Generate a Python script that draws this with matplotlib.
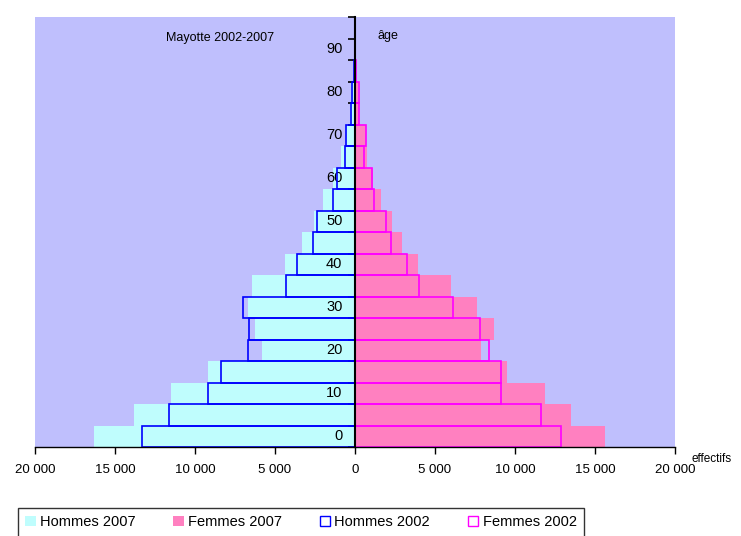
import numpy as np
import matplotlib.pyplot as plt
from matplotlib.patches import Patch

plt.rcParams['font.family'] = ['Liberation Sans', 'DejaVu Sans']

# 5-year age groups 0-4 ... 95-99, counts (persons)
age_groups = np.arange(0, 100, 5)
hommes_2007 = [16300, 13800, 11500, 9200, 5800, 6250, 6700, 6450, 4400, 3300,
               2560, 1980, 1350, 870, 550, 300, 270, 60, 30, 10]
femmes_2007 = [15600, 13500, 11900, 9500, 7850, 8670, 7650, 5980, 3940, 2920,
               2290, 1600, 1100, 730, 670, 250, 200, 50, 30, 10]
hommes_2002 = [13300, 11600, 9200, 8400, 6700, 6600, 7000, 4300, 3600, 2600,
               2350, 1400, 1150, 650, 580, 270, 190, 50, 20, 10]
femmes_2002 = [12900, 11600, 9100, 9100, 8350, 7800, 6150, 4000, 3270, 2230,
               1940, 1200, 1040, 560, 670, 270, 270, 50, 30, 10]

x_ticks = [-20000, -15000, -10000, -5000, 0, 5000, 10000, 15000, 20000]
age_labels = ['0', '10', '20', '30', '40', '50', '60', '70', '80', '90']

c_bg = '#bfbffd'
c_h07 = '#bffdfd'
c_f07 = '#ff80c0'
c_h02 = '#0000ff'
c_f02 = '#ff00ff'

fig = plt.figure(figsize=(7.41, 5.36), dpi=100)
ax = fig.add_axes([35 / 741, 1 - 447 / 536, 640 / 741, 430 / 536])
ax.set_facecolor(c_bg)

pos = np.arange(len(age_groups)) + 0.5
ax.barh(pos, -np.array(hommes_2007), height=1, color=c_h07, zorder=1)
ax.barh(pos, femmes_2007, height=1, color=c_f07, zorder=1)
ax.barh(pos, -np.array(hommes_2002), height=1, fill=False,
        edgecolor=c_h02, linewidth=1.2, zorder=2)
ax.barh(pos, femmes_2002, height=1, fill=False,
        edgecolor=c_f02, linewidth=1.2, zorder=2)

ax.set_xlim(-20000, 20000)
ax.set_ylim(0, len(age_groups))

# x axis
ax.set_xticks(x_ticks)
ax.set_xticklabels([f"{abs(v):,}".replace(",", " ") for v in x_ticks], fontsize=9.5)
ax.tick_params(axis='x', direction='out', length=5, width=1, pad=7)

# central age axis
ax.spines['left'].set_position(('data', 0))
ax.spines['left'].set_linewidth(1.5)
ax.spines['left'].set_zorder(3)
ax.spines['bottom'].set_linewidth(1)
ax.spines['top'].set_visible(False)
ax.spines['right'].set_visible(False)
ax.set_yticks(np.arange(0, len(age_groups) + 1))
ax.set_yticklabels([])
ax.tick_params(axis='y', which='major', direction='out', length=5, width=1.2)
ax.set_yticks(pos[::2] + 0.1, minor=True)
ax.set_yticklabels(age_labels, minor=True, fontsize=10.5)
ax.tick_params(axis='y', which='minor', length=0, pad=9)

ax.text(0.289, 0.952, 'Mayotte 2002-2007', transform=ax.transAxes,
        ha='center', va='center', fontsize=9)
ax.text(0.552, 0.955, 'âge', transform=ax.transAxes,
        ha='center', va='center', fontsize=9)
fig.text(691 / 741, 1 - 459 / 536, 'effectifs', fontsize=8.5, va='center')

handles = [Patch(facecolor=c_h07, edgecolor='none', label='Hommes 2007'),
           Patch(facecolor=c_f07, edgecolor='none', label='Femmes 2007'),
           Patch(facecolor='none', edgecolor=c_h02, label='Hommes 2002'),
           Patch(facecolor='none', edgecolor=c_f02, label='Femmes 2002')]
leg = fig.legend(handles=handles, loc='upper left', ncol=4,
                 bbox_to_anchor=(18 / 741, 1 - 508 / 536), fontsize=10.5,
                 frameon=True, fancybox=False, edgecolor='black',
                 handlelength=0.7, handleheight=0.7, handletextpad=0.3,
                 columnspacing=2.6, borderpad=0.5, borderaxespad=0)
leg.get_frame().set_linewidth(1)

fig.savefig('out.png', dpi=100)
